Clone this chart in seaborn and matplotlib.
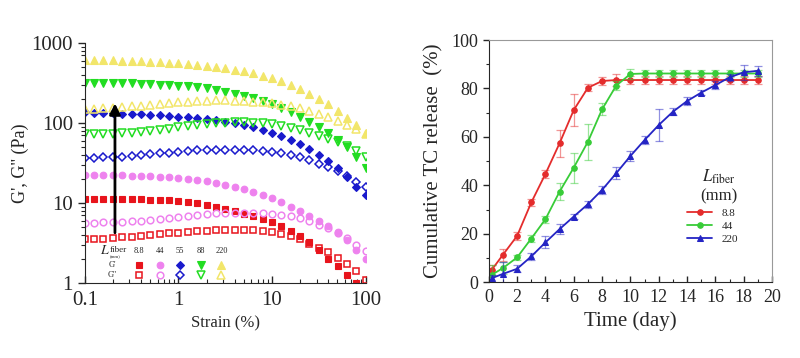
import numpy as np
import pandas as pd
import seaborn as sns
import matplotlib.pyplot as plt
from matplotlib.ticker import MultipleLocator, LogLocator, NullFormatter

# strain sweep data (left panel)
strain = [0.1, 0.126, 0.158, 0.2, 0.251, 0.316, 0.398, 0.501, 0.631, 0.794,
          1, 1.26, 1.58, 2, 2.51, 3.16, 3.98, 5.01, 6.31, 7.94,
          10, 12.6, 15.8, 20, 25.1, 31.6, 39.8, 50.1, 63.1, 79.4, 100]

fibers = ['8.8', '44', '55', '88', '220']

g1_88 = [11.2, 11.2, 11.2, 11.2, 11.2, 11.1, 11.1, 11.0, 10.9, 10.8, 10.6,
         10.3, 9.9, 9.4, 8.9, 8.3, 7.8, 7.3, 6.8, 6.3, 5.8,
         5.1, 4.5, 3.9, 3.2, 2.6, 2.0, 1.6, 1.25, 1.0, 0.8]
g2_88 = [3.5, 3.5, 3.55, 3.6, 3.7, 3.75, 3.85, 3.95, 4.05, 4.15, 4.25,
         4.35, 4.4, 4.5, 4.55, 4.6, 4.6, 4.6, 4.55, 4.45, 4.3,
         4.1, 3.85, 3.5, 3.1, 2.75, 2.4, 2.05, 1.7, 1.4, 1.1]
g1_44 = [22, 22, 22, 22, 22, 21.8, 21.7, 21.5, 21.3, 21, 20.6,
         20.1, 19.5, 18.7, 17.8, 16.9, 15.8, 14.7, 13.6, 12.5, 11.5,
         10.3, 9, 7.8, 6.8, 5.9, 5.1, 4.3, 3.4, 2.6, 2.0]
g2_44 = [5.6, 5.65, 5.7, 5.75, 5.8, 5.9, 6.0, 6.15, 6.3, 6.5, 6.7,
         6.9, 7.1, 7.3, 7.4, 7.5, 7.55, 7.55, 7.5, 7.45, 7.3,
         7.1, 6.8, 6.4, 5.9, 5.3, 4.8, 4.2, 3.6, 3.0, 2.5]
g1_55 = [135, 134, 133, 132, 131, 130, 128, 126, 124, 122, 120,
         118, 115, 112, 108, 104, 99, 94, 88, 82, 75,
         68, 62, 55, 47, 40, 33, 27, 21, 16, 12.5]
g2_55 = [36, 36.5, 37, 37.5, 38, 38.5, 39.5, 40.5, 41.5, 42.5, 43.5,
         44.5, 45.5, 46, 46.5, 46.5, 46.5, 46, 45.5, 44.5, 43,
         41.5, 39.5, 37, 34, 31, 28, 25, 21.5, 18.5, 16]
g1_880 = [320, 320, 318, 316, 314, 312, 309, 306, 302, 298, 293,
          287, 280, 271, 260, 247, 233, 218, 202, 186, 170,
          153, 136, 120, 104, 89, 75, 62, 50, 38, 27]
g2_880 = [72, 72, 72.5, 73, 74, 75, 77, 79, 82, 85, 88,
          92, 95, 98, 100, 101, 102, 102, 101, 99, 96,
          92, 87, 81, 75, 69, 63, 57, 51, 45, 38]
g1_220 = [620, 615, 610, 605, 600, 595, 588, 580, 572, 563, 555,
          545, 532, 518, 502, 484, 463, 440, 415, 388, 360,
          330, 298, 265, 232, 200, 170, 142, 116, 93, 74]
g2_220 = [148, 150, 152, 155, 158, 161, 165, 169, 173, 177, 181,
          185, 188, 190, 191, 191, 190, 188, 185, 181, 176,
          169, 161, 152, 142, 131, 119, 107, 95, 83, 73]

gp = [g1_88, g1_44, g1_55, g1_880, g1_220]
gpp = [g2_88, g2_44, g2_55, g2_880, g2_220]

# release data (right panel)
days = [0.2, 1, 2, 3, 4, 5, 6, 7, 8, 9, 10, 11, 12, 13, 14, 15, 16, 17, 18, 19]
rel_88 = [5, 11.3, 19.1, 32.9, 44.7, 57.4, 71.1, 80.3, 83.1, 83.5,
          83.5, 83.5, 83.5, 83.5, 83.5, 83.5, 83.5, 83.5, 83.5, 83.5]
err_88 = [2, 2.5, 1.5, 1.5, 1.5, 5.5, 6.5, 1.5, 1.5, 2.5,
          1.5, 1.5, 1.5, 1.5, 1.5, 1.5, 1.5, 1.5, 1.5, 1.5]
rel_44 = [3, 5.8, 10.2, 18, 26, 37.4, 47.3, 58, 71.4, 81.2,
          86, 86.2, 86.2, 86.2, 86.2, 86.2, 86.2, 86.2, 86.2, 86.2]
err_44 = [4, 2.5, 1, 1.5, 1.5, 3.5, 6.2, 7.5, 2.5, 2,
          2, 1.5, 1.5, 1.5, 1.5, 1.5, 1.5, 1.5, 1.5, 1.5]
rel_220 = [1.6, 3.4, 5.5, 10.6, 16.4, 21.9, 27.1, 32.2, 38.1, 45,
           52.1, 58.7, 64.9, 70.4, 74.8, 78.3, 81.4, 84.6, 86.7, 87.3]
err_220 = [1.5, 5, 1.5, 1.5, 2.5, 2, 1, 1.5, 1.5, 2.5,
           2, 1.5, 6.5, 1.5, 1.5, 1, 1.5, 1.5, 3, 2]

sns.set_style('ticks')
plt.rcParams['font.family'] = ['Liberation Serif', 'DejaVu Serif']
plt.rcParams['mathtext.fontset'] = 'stix'

fig = plt.figure(figsize=(8, 3.58), dpi=100)
ax1 = fig.add_axes([0.106, 0.21, 0.351, 0.67])
ax2 = fig.add_axes([0.611, 0.212, 0.354, 0.676])

# left panel
cols1 = ['#e8141c', '#ee82ee', '#1a1acc', '#22dd22', '#f2e66a']
marks1 = ['s', 'o', 'D', 'v', '^']
sizes1 = [4.4, 4.8, 4.4, 5.2, 5.2]
for c, m, ms, y1, y2 in zip(cols1, marks1, sizes1, gp, gpp):
    sns.lineplot(x=strain, y=y1, ax=ax1, color=c, marker=m, linestyle='',
                 markersize=ms, markerfacecolor=c, markeredgecolor=c, markeredgewidth=0.8)
    sns.lineplot(x=strain, y=y2, ax=ax1, color=c, marker=m, linestyle='',
                 markersize=ms, markerfacecolor='none', markeredgecolor=c, markeredgewidth=1.1)

handles = list(ax1.lines)
ax1.set_xscale('log')
ax1.set_yscale('log')
ax1.set_xlim(0.1, 100)
ax1.set_ylim(1, 1000)
ax1.set_xticks([0.1, 1, 10, 100])
ax1.set_xticklabels(['0.1', '1', '10', '100'])
ax1.set_yticks([1, 10, 100, 1000])
ax1.set_yticklabels(['1', '10', '100', '1000'])
ax1.xaxis.set_minor_locator(LogLocator(base=10, subs=np.arange(2, 10)))
ax1.yaxis.set_minor_locator(LogLocator(base=10, subs=np.arange(2, 10)))
ax1.xaxis.set_minor_formatter(NullFormatter())
ax1.yaxis.set_minor_formatter(NullFormatter())
ax1.tick_params(axis='x', which='both', direction='in', labelsize=15, pad=6)
ax1.tick_params(axis='y', which='both', direction='out', labelsize=15)
ax1.tick_params(which='major', length=5, width=1)
ax1.tick_params(which='minor', length=3, width=0.8)
sns.despine(ax=ax1)
ax1.set_xlabel('Strain (%)', fontsize=12, labelpad=4)
ax1.set_ylabel("G', G'' (Pa)", fontsize=13, labelpad=2)

ax1.annotate('', xy=(0.21, 190), xytext=(0.21, 3.9),
             arrowprops=dict(arrowstyle='-|>', color='black', lw=2, mutation_scale=16))

leg1 = ax1.legend(handles=handles, labels=[''] * 10, ncol=5, loc='center',
                  bbox_to_anchor=(0.34, 0.05), frameon=False, handlelength=1.0,
                  handletextpad=0.0, columnspacing=0.85, labelspacing=0.05,
                  fontsize=8, borderpad=0)

fig.canvas.draw()
rend = fig.canvas.get_renderer()
inv = ax1.transAxes.inverted()
centers = []
for h in leg1.legend_handles:
    bb = h.get_window_extent(rend)
    centers.append(inv.transform(((bb.x0 + bb.x1) / 2, (bb.y0 + bb.y1) / 2)))
for i, name in enumerate(fibers):
    cx, cy = centers[2 * i]
    ax1.annotate(name, xy=(cx, cy), xycoords='axes fraction', xytext=(0, 14),
                 textcoords='offset pixels', ha='center', va='center', fontsize=6)
for j, lab in enumerate(["G'", "G''"]):
    cx, cy = centers[j]
    ax1.annotate(lab, xy=(cx, cy), xycoords='axes fraction', xytext=(-27, 0),
                 textcoords='offset pixels', ha='center', va='center', fontsize=6)
cx, cy = centers[0]
ax1.annotate(r'$\mathit{L}$', xy=(cx, cy), xycoords='axes fraction', xytext=(-34, 14),
             textcoords='offset pixels', ha='center', va='center', fontsize=10)
ax1.annotate('fiber', xy=(cx, cy), xycoords='axes fraction', xytext=(-21, 15),
             textcoords='offset pixels', ha='center', va='center', fontsize=6.5)
ax1.annotate('(mm)', xy=(cx, cy), xycoords='axes fraction', xytext=(-24, 8),
             textcoords='offset pixels', ha='center', va='center', fontsize=3.5)

# right panel
cols2 = ['#e42c2c', '#38cc38', '#2424c4']
marks2 = ['o', 'o', '^']
for name, c, m, y, e in zip(['8.8', '44', '220'], cols2, marks2,
                            [rel_88, rel_44, rel_220], [err_88, err_44, err_220]):
    ax2.errorbar(days, y, yerr=e, fmt='none', ecolor=c, alpha=0.5,
                 capsize=3, elinewidth=0.9, capthick=0.9)
    sns.lineplot(x=days, y=y, ax=ax2, color=c, marker=m, markersize=4,
                 markeredgecolor=c, linewidth=1.3, label=name)

ax2.set_xlim(0, 20)
ax2.set_ylim(0, 100)
ax2.xaxis.set_major_locator(MultipleLocator(2))
ax2.xaxis.set_minor_locator(MultipleLocator(1))
ax2.yaxis.set_major_locator(MultipleLocator(20))
ax2.yaxis.set_minor_locator(MultipleLocator(10))
ax2.tick_params(axis='x', which='both', direction='in', labelsize=13, pad=5)
ax2.tick_params(axis='y', which='both', direction='out', labelsize=13)
ax2.tick_params(which='major', length=4, width=1)
ax2.tick_params(which='minor', length=2.5, width=0.8)
for s in ['top', 'right']:
    ax2.spines[s].set_color('#999999')
ax2.set_xlabel('Time (day)', fontsize=15, labelpad=4)
ax2.set_ylabel('Cumulative TC release  (%)', fontsize=15, labelpad=6)

leg2 = ax2.legend(title=r'$\mathit{L}$$_{\mathrm{fiber}}$' + '\n(mm)', loc='upper left',
                  bbox_to_anchor=(0.68, 0.495), frameon=False, fontsize=8,
                  title_fontsize=12, handlelength=2.3, labelspacing=0.3,
                  borderpad=0, alignment='right')
leg2.get_title().set_multialignment('center')

fig.savefig('out.png', dpi=100)
